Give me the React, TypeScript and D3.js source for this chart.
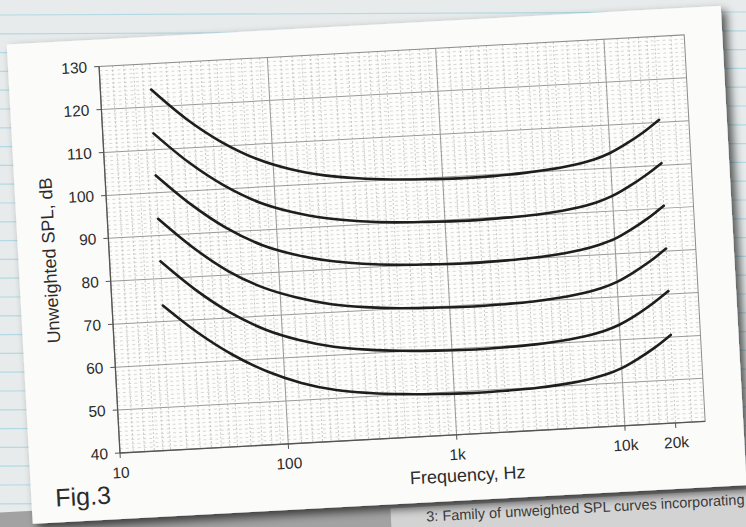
import React, { useEffect, useRef } from 'react';
import * as d3 from 'd3';

const freqs = [20, 31.5, 50, 80, 125, 200, 315, 500, 800, 1250, 2000, 3150, 5000, 6300, 8000, 10000, 12500, 16000, 20000];

// unweighted SPL, dB, top curve first
const curve1 = [124.0, 116.8, 111.0, 106.6, 103.8, 101.9, 100.8, 100.1, 99.7, 99.5, 99.6, 100.0, 100.7, 101.3, 102.2, 103.5, 105.4, 107.9, 110.6];
const curve2 = [113.8, 106.7, 100.9, 96.5, 93.8, 91.9, 90.8, 90.1, 89.8, 89.6, 89.7, 90.0, 90.7, 91.3, 92.2, 93.5, 95.4, 97.9, 100.5];
const curve3 = [104.0, 96.9, 91.0, 86.6, 83.9, 82.0, 80.9, 80.2, 79.9, 79.7, 79.8, 80.1, 80.8, 81.4, 82.3, 83.5, 85.4, 87.9, 90.6];
const curve4 = [93.9, 86.8, 80.9, 76.6, 73.9, 71.9, 70.8, 70.1, 69.8, 69.6, 69.7, 70.0, 70.7, 71.3, 72.2, 73.5, 75.4, 77.9, 80.6];
const curve5 = [84.0, 77.0, 71.2, 66.8, 64.0, 62.0, 60.9, 60.2, 59.8, 59.6, 59.7, 60.0, 60.7, 61.3, 62.2, 63.5, 65.4, 68.0, 70.7];
const curve6 = [73.7, 67.0, 61.4, 57.0, 54.0, 51.9, 50.8, 50.1, 49.7, 49.5, 49.6, 49.9, 50.6, 51.2, 52.1, 53.4, 55.3, 57.8, 60.5];
const curves = [curve1, curve2, curve3, curve4, curve5, curve6];

const xTicks = [10, 100, 1000, 10000, 20000];
const xTickLabels = ['10', '100', '1k', '10k', '20k'];
const yTicks = [40, 50, 60, 70, 80, 90, 100, 110, 120, 130];
const xMajor = [100, 1000, 10000];
const minorSteps = [1.2, 1.4, 1.6, 1.8, 2, 2.5, 3, 3.5, 4, 4.5, 5, 6, 7, 8, 9];

const FONT = '"Liberation Sans", Arial, sans-serif';

export default function App() {
  const ref = useRef<SVGSVGElement>(null);

  useEffect(() => {
    const width = 746;
    const height = 527;
    const W = 586;
    const H = 387;

    const svg = d3.select(ref.current);
    svg.selectAll('*').remove();

    const defs = svg.append('defs');
    const f = defs.append('filter').attr('id', 'sh').attr('x', '-10%').attr('y', '-10%').attr('width', '120%').attr('height', '120%');
    f.append('feDropShadow')
      .attr('dx', 5).attr('dy', 5).attr('stdDeviation', 5)
      .attr('flood-color', '#000').attr('flood-opacity', 0.65);

    // notebook behind the print
    svg.append('rect').attr('width', width).attr('height', height).attr('fill', '#e7ebeb');
    svg.append('g').selectAll('line')
      .data(d3.range(15, height, 18.8))
      .enter().append('line')
      .attr('x1', 0).attr('x2', width)
      .attr('y1', (d) => d).attr('y2', (d) => d - 3)
      .attr('stroke', '#b3d9e4').attr('stroke-width', 1.2);

    var x = d3.scaleLog().domain([10, 30000]).range([0, W]);
    var y = d3.scaleLinear().domain([40, 130]).range([H, 0]);

    var g = svg.append('g')
      .attr('transform', `translate(120,453) rotate(-3.1) translate(0,${-H})`);

    // page underneath with caption
    g.append('rect').attr('x', -300).attr('y', 440).attr('width', 1200).attr('height', 200).attr('fill', '#a2a2a2');
    g.append('rect').attr('x', 267).attr('y', 457).attr('width', 600).attr('height', 200).attr('fill', '#d3d3d3');
    g.append('text')
      .attr('x', 621).attr('y', 472)
      .attr('text-anchor', 'end')
      .attr('font-family', FONT).attr('font-size', 14.5).attr('fill', '#3a3a3a')
      .text('3: Family of unweighted SPL curves incorporating');

    // card
    g.append('rect')
      .attr('x', -91).attr('y', -27).attr('width', 715).attr('height', 480)
      .attr('fill', '#fbfbf9').attr('filter', 'url(#sh)');

    g.append('rect').attr('width', W).attr('height', H).attr('fill', '#fdfdfb');

    // minor grid
    var minorX: number[] = [];
    [10, 100, 1000, 10000].forEach((dec) => {
      minorSteps.forEach((s) => {
        if (s * dec < 30000) minorX.push(s * dec);
      });
    });
    g.append('g').selectAll('line')
      .data(minorX)
      .enter().append('line')
      .attr('x1', (d) => x(d)).attr('x2', (d) => x(d))
      .attr('y1', 0).attr('y2', H)
      .attr('stroke', '#b9b9b9').attr('stroke-width', 0.8)
      .attr('stroke-dasharray', '2,2');
    g.append('g').selectAll('line')
      .data(d3.range(41, 130, 1).filter((v) => v % 10 !== 0))
      .enter().append('line')
      .attr('x1', 0).attr('x2', W)
      .attr('y1', (d) => y(d)).attr('y2', (d) => y(d))
      .attr('stroke', '#c8c8c8').attr('stroke-width', 0.7)
      .attr('stroke-dasharray', '3,3');

    // major grid
    g.append('g').selectAll('line')
      .data(xMajor)
      .enter().append('line')
      .attr('x1', (d) => x(d)).attr('x2', (d) => x(d))
      .attr('y1', 0).attr('y2', H)
      .attr('stroke', '#999').attr('stroke-width', 1);
    g.append('g').selectAll('line')
      .data(yTicks.slice(1, -1))
      .enter().append('line')
      .attr('x1', 0).attr('x2', W)
      .attr('y1', (d) => y(d)).attr('y2', (d) => y(d))
      .attr('stroke', '#999').attr('stroke-width', 1);

    g.append('rect').attr('width', W).attr('height', H)
      .attr('fill', 'none').attr('stroke', '#8c8c8c').attr('stroke-width', 1);
    g.append('line').attr('x1', 0).attr('x2', 0).attr('y1', 0).attr('y2', H)
      .attr('stroke', '#555').attr('stroke-width', 1.3);
    g.append('line').attr('x1', 0).attr('x2', W).attr('y1', H).attr('y2', H)
      .attr('stroke', '#555').attr('stroke-width', 1.3);

    // ticks
    g.append('g').selectAll('line')
      .data(yTicks)
      .enter().append('line')
      .attr('x1', -5).attr('x2', 0)
      .attr('y1', (d) => y(d)).attr('y2', (d) => y(d))
      .attr('stroke', '#555');
    g.append('g').selectAll('line')
      .data(xTicks)
      .enter().append('line')
      .attr('x1', (d) => x(d)).attr('x2', (d) => x(d))
      .attr('y1', H).attr('y2', H + 5)
      .attr('stroke', '#555');

    // tick labels
    g.append('g').selectAll('text')
      .data(yTicks)
      .enter().append('text')
      .attr('x', -12).attr('y', (d) => y(d))
      .attr('dy', '0.35em')
      .attr('text-anchor', 'end')
      .attr('font-family', FONT).attr('font-size', 15.5).attr('fill', '#2b2b2b')
      .text((d) => d);
    g.append('g').selectAll('text')
      .data(xTicks)
      .enter().append('text')
      .attr('x', (d) => x(d)).attr('y', H + 25)
      .attr('text-anchor', 'middle')
      .attr('font-family', FONT).attr('font-size', 15.5).attr('fill', '#2b2b2b')
      .text((d, i) => xTickLabels[i]);

    // axis titles
    g.append('text')
      .attr('transform', `translate(-60,${H - 196}) rotate(-90)`)
      .attr('dy', '0.35em')
      .attr('text-anchor', 'middle')
      .attr('font-family', FONT).attr('font-size', 18).attr('fill', '#2b2b2b')
      .text('Unweighted SPL, dB');
    g.append('text')
      .attr('x', 346).attr('y', H + 47)
      .attr('text-anchor', 'middle')
      .attr('font-family', FONT).attr('font-size', 18).attr('fill', '#2b2b2b')
      .text('Frequency, Hz');
    g.append('text')
      .attr('x', -67).attr('y', H + 50)
      .attr('font-family', FONT).attr('font-size', 25).attr('fill', '#2b2b2b')
      .text('Fig.3');

    // curves
    var line = d3.line<number>()
      .x((d, i) => x(freqs[i]))
      .y((d) => y(d))
      .curve(d3.curveCatmullRom.alpha(0.5));

    g.append('g').selectAll('path')
      .data(curves)
      .enter().append('path')
      .attr('d', (d) => line(d))
      .attr('fill', 'none')
      .attr('stroke', '#1e1e1e')
      .attr('stroke-width', 2.6)
      .attr('stroke-linecap', 'round');
  }, []);

  return (
    <svg ref={ref} width={746} height={527} style={{ position: 'absolute', left: 0, top: 0 }} />
  );
}
